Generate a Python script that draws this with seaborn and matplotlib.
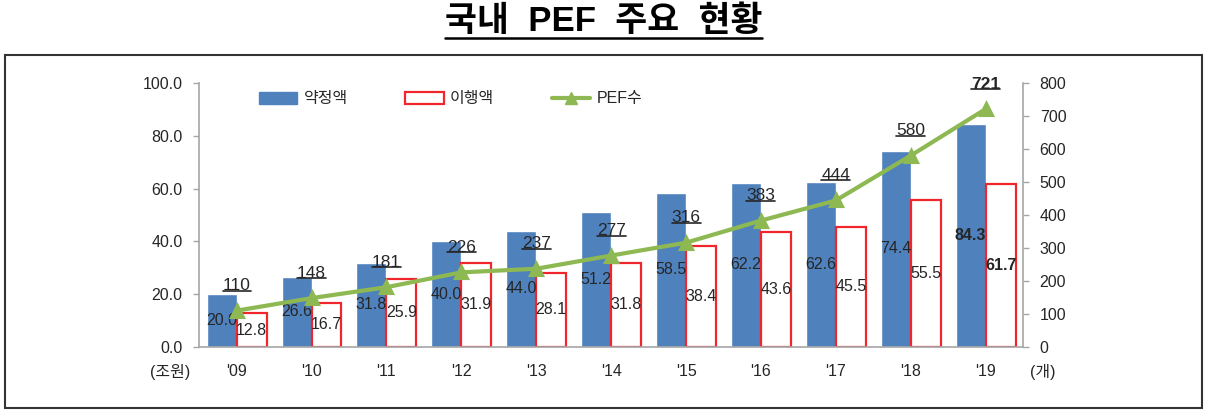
import numpy as np
import pandas as pd
import matplotlib
matplotlib.use("Agg")
import matplotlib.pyplot as plt
import seaborn as sns
from matplotlib.lines import Line2D
from matplotlib.patches import Patch, Rectangle

years = ["'09", "'10", "'11", "'12", "'13", "'14", "'15", "'16", "'17", "'18", "'19"]
commit = [20.0, 26.6, 31.8, 40.0, 44.0, 51.2, 58.5, 62.2, 62.6, 74.4, 84.3]
invest = [12.8, 16.7, 25.9, 31.9, 28.1, 31.8, 38.4, 43.6, 45.5, 55.5, 61.7]
pef_count = [110, 148, 181, 226, 237, 277, 316, 383, 444, 580, 721]

blue = "#4F81BD"
red = "#F0262C"
green = "#8DB852"
gray = "#A6A6A6"
txt = "#262626"

sns.set_style("white")
plt.rcParams['font.family'] = ['Liberation Sans', 'Noto Sans CJK KR', 'DejaVu Sans']

df = pd.DataFrame({
    'year': years * 2,
    'value': commit + invest,
    'kind': ['약정액'] * len(years) + ['이행액'] * len(years),
})

fig = plt.figure(figsize=(12.07, 4.15), dpi=100)
ax = fig.add_axes([0.165, 0.164, 0.6826, 0.636])

sns.barplot(data=df, x='year', y='value', hue='kind', palette=[blue, 'white'],
            width=0.8, saturation=1, legend=False, ax=ax)
for p in ax.containers[1]:
    p.set_edgecolor(red)
    p.set_linewidth(1.6)

lab1 = ax.bar_label(ax.containers[0], labels=[f'{v:.1f}' for v in commit],
                    label_type='center', fontsize=11.5, color=txt)
lab2 = ax.bar_label(ax.containers[1], labels=[f'{v:.1f}' for v in invest],
                    label_type='center', fontsize=11.5, color=txt)
lab1[-1].set_fontweight('bold')
lab2[-1].set_fontweight('bold')

ax2 = ax.twinx()
sns.pointplot(x=years, y=pef_count, ax=ax2, color=green, markers='^',
              markersize=8, linewidth=3, errorbar=None)

ax.set_ylim(0, 100)
ax2.set_ylim(0, 800)
ax.set_xlim(-0.5, len(years) - 0.5)
ax.set_yticks(np.arange(0, 101, 20))
ax.set_yticklabels([f'{v:.1f}' for v in np.arange(0, 101, 20)])
ax2.set_yticks(np.arange(0, 801, 100))
ax.set_xticks(range(len(years)))
ax.set_xticklabels(years)
ax.set_xticks(np.arange(-0.5, len(years), 1), minor=True)
for a in (ax, ax2):
    a.set_xlabel('')
    a.set_ylabel('')

for s in ['top', 'right']:
    ax.spines[s].set_visible(False)
for s in ['top', 'left', 'bottom']:
    ax2.spines[s].set_visible(False)
for s in [ax.spines['left'], ax.spines['bottom'], ax2.spines['right']]:
    s.set_color(gray)
    s.set_linewidth(1.2)

ax.tick_params(axis='x', which='major', length=0, pad=12, labelsize=11.5, colors=txt)
ax.tick_params(axis='x', which='minor', length=4, width=1, color=gray, direction='out')
ax.tick_params(axis='y', length=4, width=1, color=gray, pad=8, labelsize=11.5,
               labelcolor=txt, direction='out', left=True)
ax2.tick_params(axis='y', length=4, width=1, color=gray, pad=8, labelsize=11.5,
                labelcolor=txt, direction='out', right=True)

count_labels = []
for i, v in enumerate(pef_count):
    t = ax2.annotate(str(v), (i, v), xytext=(0, 18), textcoords='offset points',
                     ha='center', va='center', fontsize=12.5, color=txt,
                     fontweight='bold' if i == len(pef_count) - 1 else 'normal')
    count_labels.append(t)

handles = [Patch(facecolor=blue, edgecolor=blue),
           Patch(facecolor='white', edgecolor=red, linewidth=1.6),
           Line2D([0], [0], color=green, lw=3, marker='^', markersize=8)]
ax.legend(handles, ['약정액', '이행액', 'PEF수'], ncol=3, frameon=False,
          loc='center left', bbox_to_anchor=(0.055, 0.94), fontsize=11.5,
          handlelength=2.4, handleheight=0.8, columnspacing=3.6, handletextpad=0.4)

fig.text(0.141, 0.104, '(조원)', ha='center', va='center', fontsize=11.5, color=txt)
fig.text(0.864, 0.104, '(개)', ha='center', va='center', fontsize=11.5, color=txt)

title = fig.text(0.5, 1 - 22 / 415, '국내  PEF  주요  현황', ha='center', va='center',
                 fontsize=25, fontweight='bold', color='black')

fig.add_artist(Rectangle((0.004, 0.017), 0.992, 0.85, transform=fig.transFigure,
                         fill=False, edgecolor='#333333', linewidth=1.5))

# underline the title and the count labels
fig.canvas.draw()
inv = fig.transFigure.inverted()


def underline(t, lw, off=0.0):
    bb = t.get_window_extent()
    (x0, y0), (x1, y1) = inv.transform([[bb.x0, bb.y0], [bb.x1, bb.y1]])
    fig.add_artist(Line2D([x0, x1], [y0 + off, y0 + off], transform=fig.transFigure,
                          color=t.get_color(), linewidth=lw))


underline(title, 1.8, 0.0)
for t in count_labels:
    underline(t, 1.2, 0.006)

fig.savefig('out.png', dpi=100, facecolor='white')
